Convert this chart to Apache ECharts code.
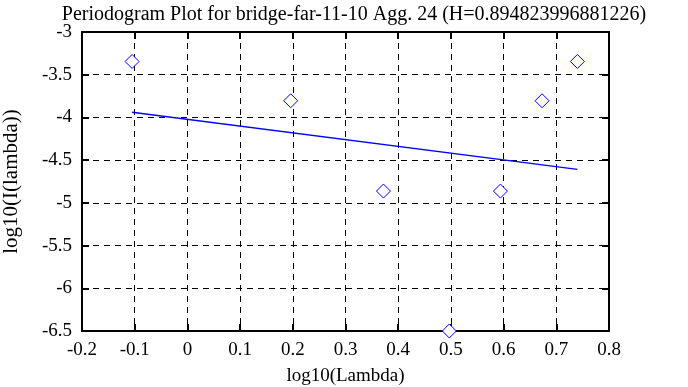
<!DOCTYPE html>
<html>
<head>
<meta charset="utf-8">
<script src="https://cdn.jsdelivr.net/npm/echarts@6/dist/echarts.min.js"></script>
<style>
html,body{margin:0;padding:0;background:#fff;}
#c{width:688px;height:387px;}
</style>
</head>
<body>
<div id="c"></div>
<script>
const titleText = "Periodogram Plot for bridge-far-11-10 Agg. 24 (H=0.894823996881226)";
const xName = "log10(Lambda)";
const yName = "log10(I(lambda))";
const pointX = [-0.105, 0.196, 0.372, 0.497, 0.594, 0.673, 0.740];
const pointY = [-3.345, -3.805, -4.862, -6.5, -4.862, -3.805, -3.345];
const fitX = [-0.105, 0.740];
const fitY = [-3.940, -4.608];
const xMin = -0.2, xMax = 0.8, xStep = 0.1;
const yMin = -6.5, yMax = -3, yStep = 0.5;

const FONT = "Liberation Serif";
const chart = echarts.init(document.getElementById('c'), null, {renderer: 'canvas'});
const fmt = v => String(parseFloat(Number(v).toFixed(2)));
const gridLine = {show: true, lineStyle: {color: '#000', type: [6, 5], width: 1}};
const axisLine = {show: true, onZero: false, lineStyle: {color: '#000', width: 2}};
const tick = {show: true, inside: true, length: 7, lineStyle: {color: '#000', width: 2}};

chart.setOption({
  animation: false,
  backgroundColor: '#fff',
  title: {
    text: titleText,
    left: 349, textAlign: 'center', top: 0,
    textStyle: {fontFamily: FONT, fontSize: 20, fontWeight: 'normal', color: '#000'}
  },
  grid: {left: 82, right: 79, top: 32, bottom: 56, containLabel: false, outerBoundsMode: 'none'},
  xAxis: [{
    type: 'value', min: xMin, max: xMax, interval: xStep,
    name: xName, nameLocation: 'middle', nameGap: 36,
    nameTextStyle: {fontFamily: FONT, fontSize: 19, color: '#000'},
    axisLine: axisLine, axisTick: tick, splitLine: gridLine,
    axisLabel: {fontFamily: FONT, fontSize: 19, color: '#000', margin: 10, formatter: fmt}
  }, {
    type: 'value', position: 'top', min: xMin, max: xMax, interval: xStep,
    axisLine: axisLine, axisTick: tick, splitLine: {show: false}, axisLabel: {show: false}
  }],
  yAxis: [{
    type: 'value', min: yMin, max: yMax, interval: yStep,
    name: yName, nameLocation: 'middle', nameGap: 60, nameRotate: 90,
    nameTextStyle: {fontFamily: FONT, fontSize: 21, color: '#000'},
    axisLine: axisLine, axisTick: tick, splitLine: gridLine,
    axisLabel: {fontFamily: FONT, fontSize: 19, color: '#000', margin: 10, formatter: fmt}
  }, {
    type: 'value', position: 'right', min: yMin, max: yMax, interval: yStep,
    axisLine: axisLine, axisTick: tick, splitLine: {show: false}, axisLabel: {show: false}
  }],
  series: [{
    type: 'scatter',
    data: pointX.map((x, i) => [x, pointY[i]]),
    symbol: 'diamond', symbolSize: 14,
    itemStyle: {color: '#ffffff', opacity: 1, borderColor: '#0000ff', borderWidth: 1},
    clip: false, z: 5
  }, {
    type: 'line',
    data: fitX.map((x, i) => [x, fitY[i]]),
    showSymbol: false, symbol: 'none',
    lineStyle: {color: '#0000ff', width: 1.5},
    z: 4
  }]
});
</script>
</body>
</html>
